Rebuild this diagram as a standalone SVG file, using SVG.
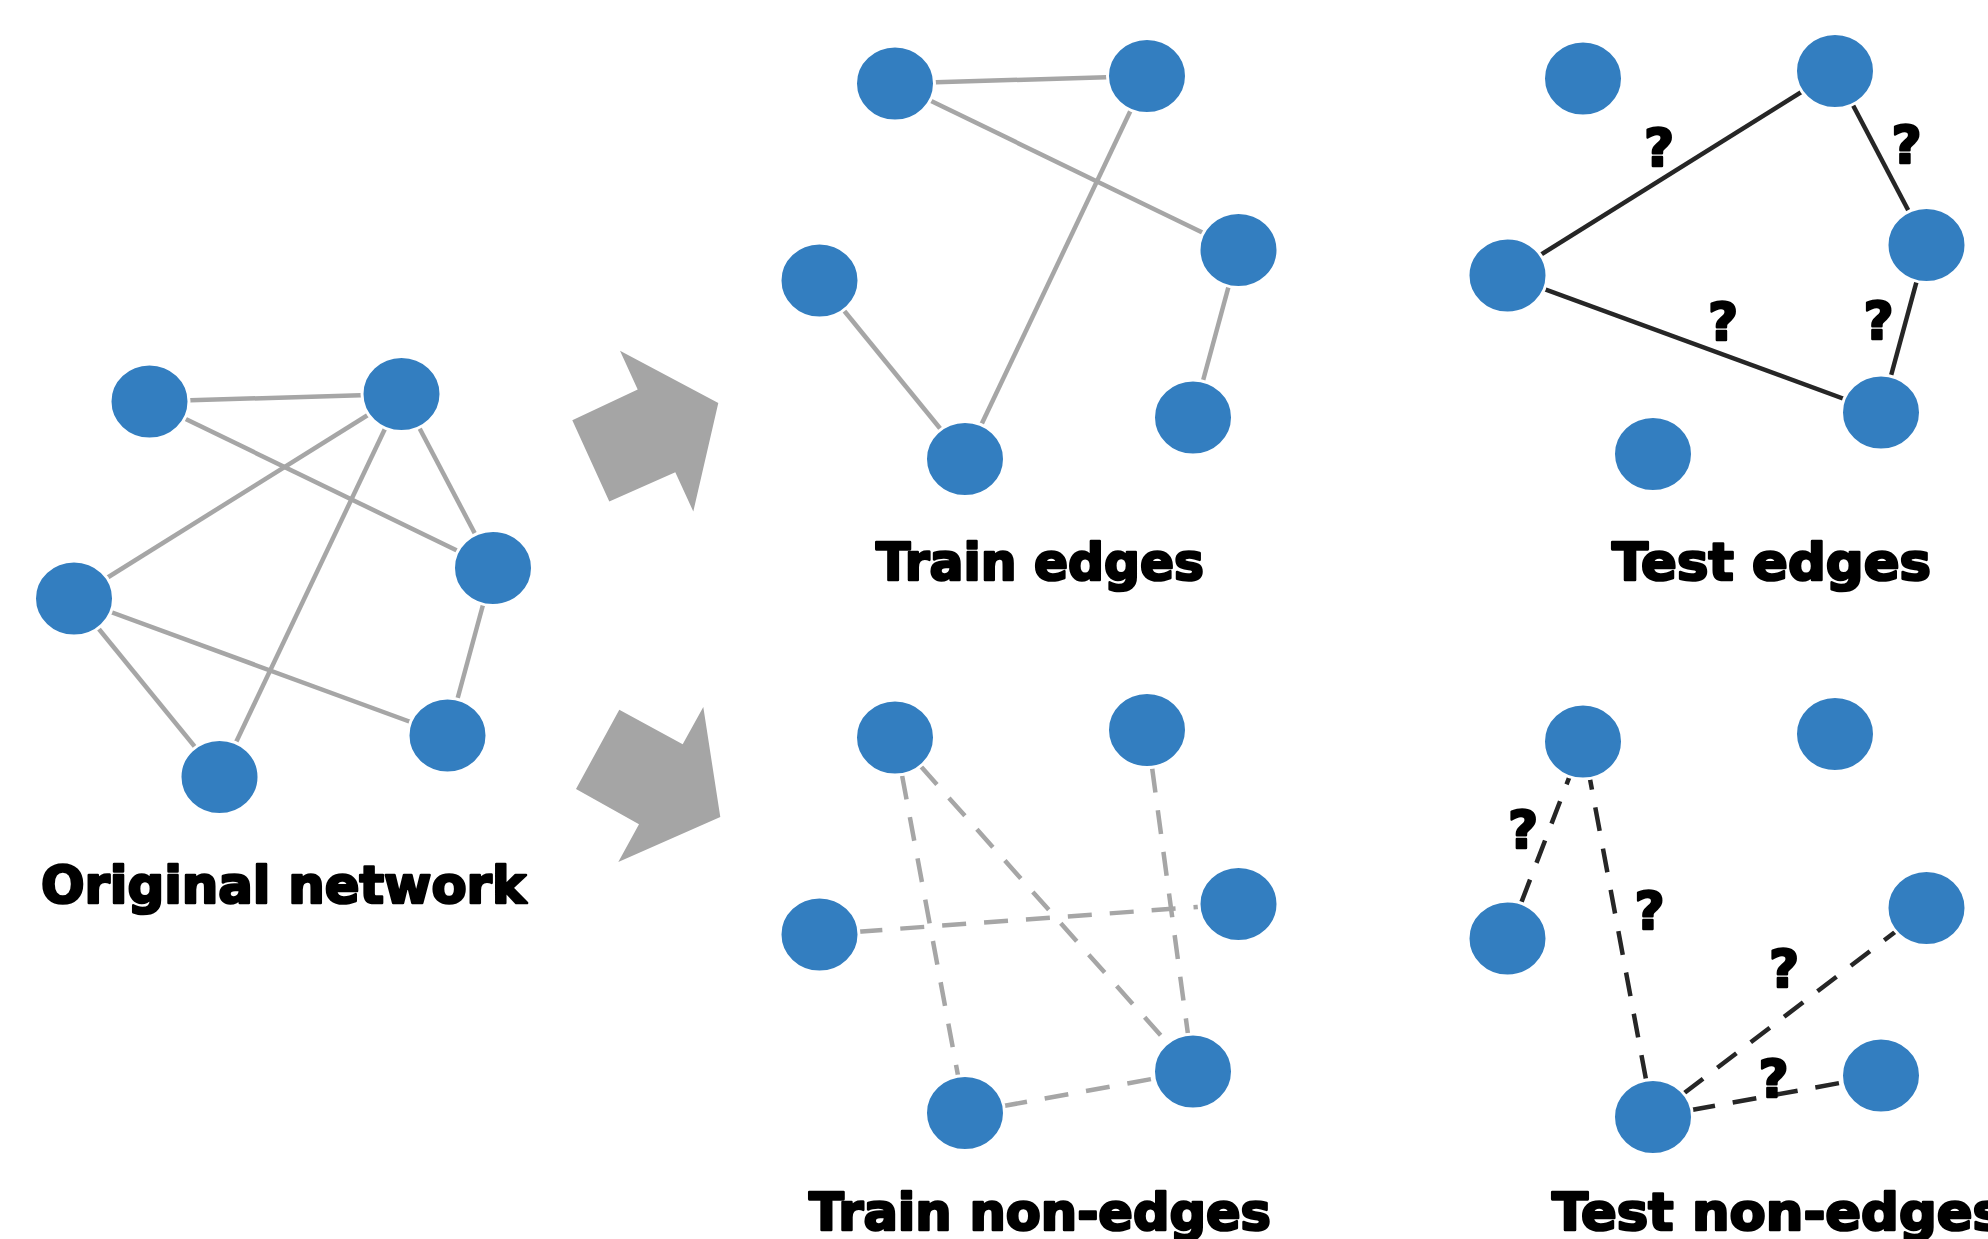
<svg xmlns="http://www.w3.org/2000/svg" width="1988" height="1239" viewBox="0 0 1988 1239">
  <style>
    .node { fill: #337ec0; stroke: #ffffff; stroke-width: 3; }
    .edge { stroke: #a6a6a6; stroke-width: 4.5; fill: none; }
    .dark { stroke: #262626; stroke-width: 4.5; fill: none; }
    .dash { stroke-dasharray: 24 18; stroke-dashoffset: 3; }
    .arrow { fill: #a5a5a5; }
    .label { font-family: "DejaVu Sans", "Liberation Sans", sans-serif; font-weight: bold; font-size: 52px; fill: #000; stroke: #000; stroke-width: 2.6; stroke-linejoin: round; }
    .q { font-family: "DejaVu Sans", "Liberation Sans", sans-serif; font-weight: bold; font-size: 52px; fill: #000; stroke: #000; stroke-width: 2.4; stroke-linejoin: round; text-anchor: middle; }
  </style>
  <rect width="1988" height="1239" fill="#ffffff"/>

  <!-- Original network (panel coordinates shared by every graph; shifted per panel) -->
  <g id="original" transform="translate(-745.5,318)">
    <g id="original-connectors">
      <line class="edge" x1="895" y1="83.5" x2="1147" y2="76"/>
      <line class="edge" x1="895" y1="83.5" x2="1238.5" y2="250"/>
      <line class="edge" x1="1147" y1="76" x2="819.5" y2="280.5"/>
      <line class="edge" x1="1147" y1="76" x2="965" y2="459"/>
      <line class="edge" x1="1147" y1="76" x2="1238.5" y2="250"/>
      <line class="edge" x1="819.5" y1="280.5" x2="1193" y2="417.5"/>
      <line class="edge" x1="819.5" y1="280.5" x2="965" y2="459"/>
      <line class="edge" x1="1238.5" y1="250" x2="1193" y2="417.5"/>
    </g>
    <g id="original-n1"><ellipse class="node" cx="895" cy="83.5" rx="39.5" ry="37.5"/></g>
    <g id="original-n2"><ellipse class="node" cx="1147" cy="76" rx="39.5" ry="37.5"/></g>
    <g id="original-n3"><ellipse class="node" cx="1238.5" cy="250" rx="39.5" ry="37.5"/></g>
    <g id="original-n4"><ellipse class="node" cx="819.5" cy="280.5" rx="39.5" ry="37.5"/></g>
    <g id="original-n5"><ellipse class="node" cx="965" cy="459" rx="39.5" ry="37.5"/></g>
    <g id="original-n6"><ellipse class="node" cx="1193" cy="417.5" rx="39.5" ry="37.5"/></g>
  </g>

  <!-- Split arrows -->
  <g id="arrows">
    <polygon class="arrow" points="620,350.7 637.7,389.6 572.3,420.2 609.3,501.5 675.3,472.2 693.3,511.5 718.3,403"/>
    <polygon class="arrow" points="619.3,709.8 682.7,744.3 703.3,707.1 720.3,817 618.3,862 639,824.2 576,789"/>
  </g>

  <!-- Train edges -->
  <g id="train-edges">
    <g id="train-edges-connectors">
      <line class="edge" x1="895" y1="83.5" x2="1147" y2="76"/>
      <line class="edge" x1="895" y1="83.5" x2="1238.5" y2="250"/>
      <line class="edge" x1="1147" y1="76" x2="965" y2="459"/>
      <line class="edge" x1="819.5" y1="280.5" x2="965" y2="459"/>
      <line class="edge" x1="1238.5" y1="250" x2="1193" y2="417.5"/>
    </g>
    <g id="train-edges-n1"><ellipse class="node" cx="895" cy="83.5" rx="39.5" ry="37.5"/></g>
    <g id="train-edges-n2"><ellipse class="node" cx="1147" cy="76" rx="39.5" ry="37.5"/></g>
    <g id="train-edges-n3"><ellipse class="node" cx="1238.5" cy="250" rx="39.5" ry="37.5"/></g>
    <g id="train-edges-n4"><ellipse class="node" cx="819.5" cy="280.5" rx="39.5" ry="37.5"/></g>
    <g id="train-edges-n5"><ellipse class="node" cx="965" cy="459" rx="39.5" ry="37.5"/></g>
    <g id="train-edges-n6"><ellipse class="node" cx="1193" cy="417.5" rx="39.5" ry="37.5"/></g>
  </g>

  <!-- Test edges -->
  <g id="test-edges" transform="translate(688,-5)">
    <g id="test-edges-connectors">
      <line class="dark" x1="819.5" y1="280.5" x2="1147" y2="76"/>
      <line class="dark" x1="1147" y1="76" x2="1238.5" y2="250"/>
      <line class="dark" x1="819.5" y1="280.5" x2="1193" y2="417.5"/>
      <line class="dark" x1="1238.5" y1="250" x2="1193" y2="417.5"/>
    </g>
    <g id="test-edges-n1"><ellipse class="node" cx="895" cy="83.5" rx="39.5" ry="37.5"/></g>
    <g id="test-edges-n2"><ellipse class="node" cx="1147" cy="76" rx="39.5" ry="37.5"/></g>
    <g id="test-edges-n3"><ellipse class="node" cx="1238.5" cy="250" rx="39.5" ry="37.5"/></g>
    <g id="test-edges-n4"><ellipse class="node" cx="819.5" cy="280.5" rx="39.5" ry="37.5"/></g>
    <g id="test-edges-n5"><ellipse class="node" cx="965" cy="459" rx="39.5" ry="37.5"/></g>
    <g id="test-edges-n6"><ellipse class="node" cx="1193" cy="417.5" rx="39.5" ry="37.5"/></g>
  </g>
  <g id="test-edges-marks">
    <text class="q" x="1659" y="166">?</text>
    <text class="q" x="1906.5" y="163">?</text>
    <text class="q" x="1723" y="340">?</text>
    <text class="q" x="1878.5" y="339">?</text>
  </g>

  <!-- Train non-edges -->
  <g id="train-non-edges" transform="translate(0,654)">
    <g id="train-non-edges-connectors">
      <line class="edge dash" x1="895" y1="83.5" x2="965" y2="459"/>
      <line class="edge dash" x1="895" y1="83.5" x2="1193" y2="417.5"/>
      <line class="edge dash" x1="1147" y1="76" x2="1193" y2="417.5"/>
      <line class="edge dash" x1="819.5" y1="280.5" x2="1238.5" y2="250"/>
      <line class="edge dash" x1="965" y1="459" x2="1193" y2="417.5"/>
    </g>
    <g id="train-non-edges-n1"><ellipse class="node" cx="895" cy="83.5" rx="39.5" ry="37.5"/></g>
    <g id="train-non-edges-n2"><ellipse class="node" cx="1147" cy="76" rx="39.5" ry="37.5"/></g>
    <g id="train-non-edges-n3"><ellipse class="node" cx="1238.5" cy="250" rx="39.5" ry="37.5"/></g>
    <g id="train-non-edges-n4"><ellipse class="node" cx="819.5" cy="280.5" rx="39.5" ry="37.5"/></g>
    <g id="train-non-edges-n5"><ellipse class="node" cx="965" cy="459" rx="39.5" ry="37.5"/></g>
    <g id="train-non-edges-n6"><ellipse class="node" cx="1193" cy="417.5" rx="39.5" ry="37.5"/></g>
  </g>

  <!-- Test non-edges -->
  <g id="test-non-edges" transform="translate(688,658)">
    <g id="test-non-edges-connectors">
      <line class="dark dash" x1="819.5" y1="280.5" x2="895" y2="83.5"/>
      <line class="dark dash" x1="965" y1="459" x2="895" y2="83.5"/>
      <line class="dark dash" x1="965" y1="459" x2="1238.5" y2="250"/>
      <line class="dark dash" x1="965" y1="459" x2="1193" y2="417.5"/>
    </g>
    <g id="test-non-edges-n1"><ellipse class="node" cx="895" cy="83.5" rx="39.5" ry="37.5"/></g>
    <g id="test-non-edges-n2"><ellipse class="node" cx="1147" cy="76" rx="39.5" ry="37.5"/></g>
    <g id="test-non-edges-n3"><ellipse class="node" cx="1238.5" cy="250" rx="39.5" ry="37.5"/></g>
    <g id="test-non-edges-n4"><ellipse class="node" cx="819.5" cy="280.5" rx="39.5" ry="37.5"/></g>
    <g id="test-non-edges-n5"><ellipse class="node" cx="965" cy="459" rx="39.5" ry="37.5"/></g>
    <g id="test-non-edges-n6"><ellipse class="node" cx="1193" cy="417.5" rx="39.5" ry="37.5"/></g>
  </g>
  <g id="test-non-edges-marks">
    <text class="q" x="1523" y="848">?</text>
    <text class="q" x="1649.5" y="929">?</text>
    <text class="q" x="1784" y="987">?</text>
    <text class="q" x="1773.5" y="1097">?</text>
  </g>

  <!-- Panel titles -->
  <g id="titles">
    <text class="label" x="41" y="903" font-size="54" textLength="485" lengthAdjust="spacingAndGlyphs">Original network</text>
    <text class="label" x="876" y="580" textLength="328" lengthAdjust="spacingAndGlyphs">Train edges</text>
    <text class="label" x="1612" y="580" textLength="319" lengthAdjust="spacingAndGlyphs">Test edges</text>
    <text class="label" x="809" y="1230" textLength="462" lengthAdjust="spacingAndGlyphs">Train non-edges</text>
    <text class="label" x="1552" y="1230" textLength="452" lengthAdjust="spacingAndGlyphs">Test non-edges</text>
  </g>
</svg>
